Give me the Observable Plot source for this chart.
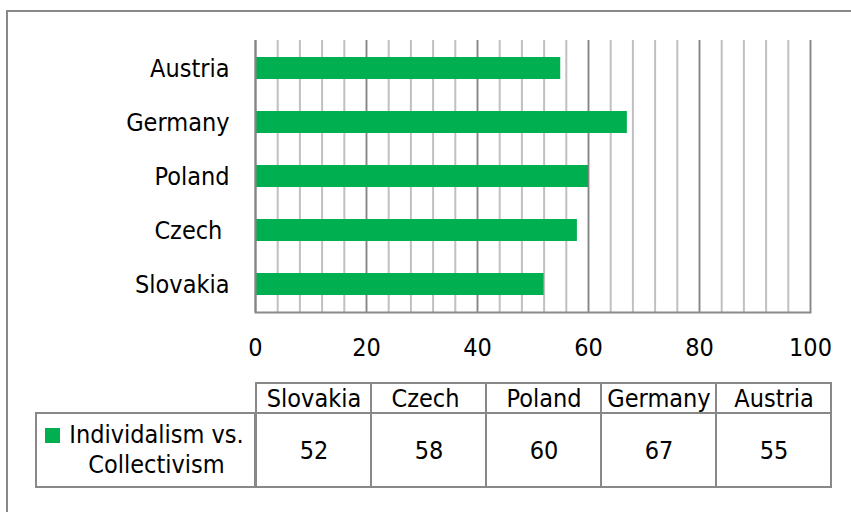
<!DOCTYPE html>
<html><head><meta charset="utf-8">
<script src="https://cdn.jsdelivr.net/npm/d3@7"></script>
<script src="https://cdn.jsdelivr.net/npm/@observablehq/plot@0.6"></script>
<style>
html,body{margin:0;padding:0;background:#fff;}
#root{position:relative;width:851px;height:512px;overflow:hidden;background:#fff;font-family:"DejaVu Sans Condensed","DejaVu Sans",sans-serif;font-stretch:condensed;color:#000;}
#frame{position:absolute;left:6px;top:10px;width:900px;height:600px;border:2px solid #888;}
#root svg{position:absolute;left:0;}
#root svg text{white-space:pre;}
#legendCell{position:absolute;left:35px;top:412px;width:221px;height:76px;box-sizing:border-box;border:2px solid #888;background:#fff;}
#legendKey{position:absolute;left:45px;top:428px;width:15px;height:15px;background:#00B050;}
#legendText{position:absolute;left:56px;top:420px;width:201px;text-align:center;font-size:25px;line-height:30px;white-space:pre;}
</style></head><body><div id="root"><div id="frame"></div></div>
<script>
// data (in the table's order)
const categories = ["Slovakia", "Czech ", "Poland", "Germany", "Austria"];
const values = [52, 58, 60, 67, 55];
const seriesName = ["Individalism vs.", "Collectivism"];
const xTicks = [0, 20, 40, 60, 80, 100];
const minorTicks = [0, 4, 8, 12, 16, 20, 24, 28, 32, 36, 40, 44, 48, 52, 56, 60, 64, 68, 72, 76, 80, 84, 88, 92, 96, 100];
const green = "#00B050";

const data = categories.map((c, i) => ({country: c, value: values[i]}));
const font = '"DejaVu Sans Condensed","DejaVu Sans",sans-serif';
const root = document.getElementById("root");

const chart = Plot.plot({
  width: 851, height: 370,
  marginLeft: 255, marginRight: 41, marginTop: 40, marginBottom: 58,
  style: {fontFamily: font, fontSize: "25px", background: "transparent", overflow: "visible", color: "#000"},
  x: {domain: [0, 100], ticks: xTicks},
  y: {domain: categories.slice().reverse(), paddingInner: 0.6, paddingOuter: 0.3},
  marks: [
    Plot.gridX(minorTicks, {stroke: "#c0c0c0", strokeOpacity: 1, strokeWidth: 2}),
    Plot.gridX(xTicks, {stroke: "#868686", strokeOpacity: 1, strokeWidth: 1.5}),
    Plot.barX(data, {x: "value", y: "country", fill: green}),
    Plot.ruleX([0], {stroke: "#868686", strokeWidth: 2}),
    Plot.frame({anchor: "bottom", stroke: "#8a8a8a", strokeWidth: 2}),
    Plot.axisX(xTicks, {tickSize: 0, tickPadding: 26, fontSize: 25, label: null}),
    Plot.axisY({tickSize: 0, tickPadding: 26, fontSize: 25, label: null})
  ]
});
chart.style.top = "0px";
root.appendChild(chart);

const tableX = {domain: categories, padding: 0, axis: null};
const header = Plot.plot({
  width: 851, height: 32,
  marginLeft: 255, marginRight: 19, marginTop: 1, marginBottom: 1,
  style: {fontFamily: font, fontSize: "25px", background: "transparent", overflow: "visible", color: "#000"},
  x: tableX,
  marks: [
    Plot.cell(categories, {x: d => d, fill: "white", stroke: "#888", strokeWidth: 2, inset: 0}),
    Plot.text(categories, {x: d => d, text: d => d, fontSize: 25, fill: "#000"})
  ]
});
header.style.top = "382px";
root.appendChild(header);

const valueRow = Plot.plot({
  width: 851, height: 76,
  marginLeft: 255, marginRight: 19, marginTop: 1, marginBottom: 1,
  style: {fontFamily: font, fontSize: "25px", background: "transparent", overflow: "visible", color: "#000"},
  x: tableX,
  marks: [
    Plot.cell(data, {x: "country", fill: "white", stroke: "#888", strokeWidth: 2, inset: 0}),
    Plot.text(data, {x: "country", text: d => String(d.value), fontSize: 25, fill: "#000"})
  ]
});
valueRow.style.top = "412px";
root.appendChild(valueRow);

const cell = document.createElement("div"); cell.id = "legendCell"; root.appendChild(cell);
const key = document.createElement("div"); key.id = "legendKey"; root.appendChild(key);
const txt = document.createElement("div"); txt.id = "legendText"; txt.textContent = seriesName.join("\n"); root.appendChild(txt);
</script></body></html>
